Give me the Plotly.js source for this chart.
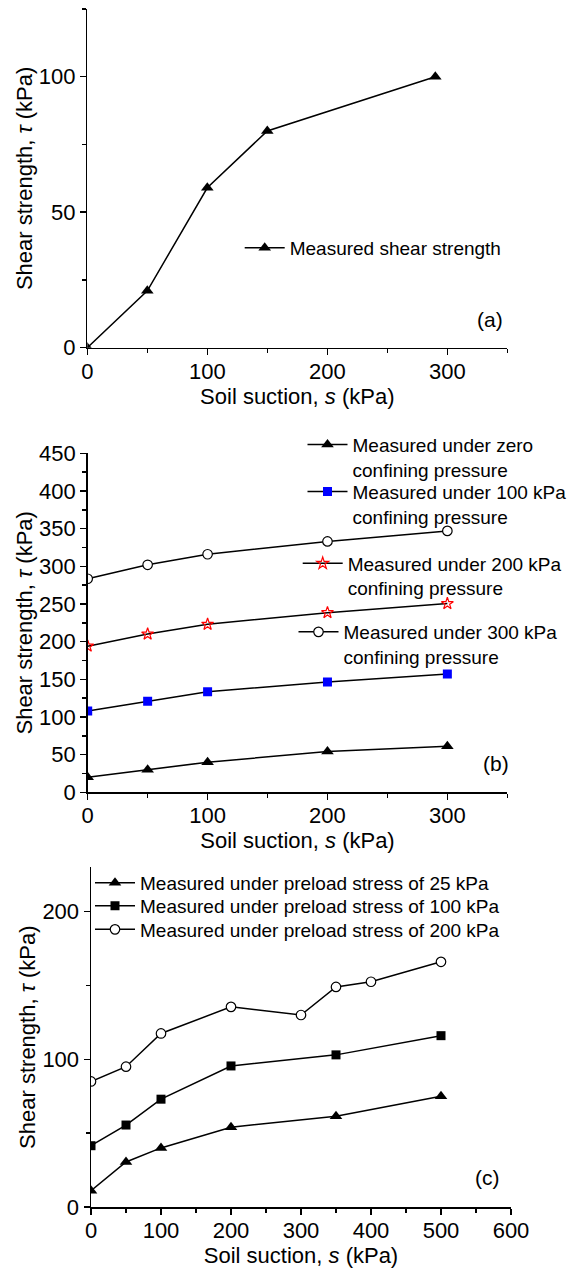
<!DOCTYPE html>
<html>
<head>
<meta charset="utf-8">
<script src="https://cdn.plot.ly/plotly-3.0.1.min.js"></script>
<style>html,body{margin:0;padding:0;background:#fff;}#chart{width:574px;height:1268px;}</style>
</head>
<body>
<div id="chart"></div>
<script>
// ---- Panel (a) ----
const aSuction = [0, 50, 100, 150, 290];
const aStrength = [0, 21, 59, 80, 100];
const aName = 'Measured shear strength';

// ---- Panel (b) ----
const bSuction = [0, 50, 100, 200, 300];
const bZero = [20, 30, 40, 54, 61];
const b100 = [108, 121, 133.5, 146.5, 157];
const b200 = [194, 210, 223, 238.5, 250.5];
const b300 = [283.5, 302, 316, 333, 347];
const bNames = [
  'Measured under zero<br>confining pressure',
  'Measured under 100 kPa<br>confining pressure',
  'Measured under 200 kPa<br>confining pressure',
  'Measured under 300 kPa<br>confining pressure'
];

// ---- Panel (c) ----
const cSuction = [0, 50, 100, 200, 350, 500];
const c25 = [11, 30.5, 40, 54, 61.5, 75];
const c100 = [41.5, 55.5, 73, 95.5, 103, 116];
const cSuction200 = [0, 50, 100, 200, 300, 350, 400, 500];
const c200 = [85, 95, 117.5, 135.5, 130, 149, 152.5, 166];
const cNames = [
  'Measured under preload stress of 25 kPa',
  'Measured under preload stress of 100 kPa',
  'Measured under preload stress of 200 kPa'
];

const xTitle = 'Soil suction, <i>s</i> (kPa)';
const yTitle = 'Shear strength, <i>τ</i> (kPa)';
const panelLabels = ['(a)', '(b)', '(c)'];

const FONT = 'Liberation Sans, Arial, sans-serif';
const W = 574, H = 1268;
const px = v => v / W;
const py = v => 1 - v / H;

const lineStyle = {color: '#000', width: 1.5};
function tr(x, y, name, xa, ya, leg, marker) {
  return {x: x, y: y, name: name, type: 'scatter', mode: 'lines+markers',
    xaxis: xa, yaxis: ya, legend: leg, line: lineStyle, marker: marker, cliponaxis: true};
}
const tri = {symbol: 'triangle-up', size: 11, color: '#000'};
const sqBlack = {symbol: 'square', size: 9, color: '#000'};
const sqBlue = {symbol: 'square', size: 9, color: '#0000ff'};
const starRed = {symbol: 'star-open', size: 9, color: '#ff0000', line: {color: '#ff0000', width: 1.2}};
const circOpen = {symbol: 'circle', size: 9.5, color: '#fff', line: {color: '#000', width: 1.2}};

const data = [
  tr(aSuction, aStrength, aName, 'x', 'y', 'legend', tri),
  tr(bSuction, bZero, bNames[0], 'x2', 'y2', 'legend2', tri),
  tr(bSuction, b100, bNames[1], 'x2', 'y2', 'legend3', sqBlue),
  tr(bSuction, b200, bNames[2], 'x2', 'y2', 'legend4', starRed),
  tr(bSuction, b300, bNames[3], 'x2', 'y2', 'legend5', circOpen),
  tr(cSuction, c25, cNames[0], 'x3', 'y3', 'legend6', tri),
  tr(cSuction, c100, cNames[1], 'x3', 'y3', 'legend7', sqBlack),
  tr(cSuction200, c200, cNames[2], 'x3', 'y3', 'legend8', circOpen)
];

function xax(domain, range, dtick, mdtick, anchor) {
  return {domain: domain, range: range, dtick: dtick, tick0: 0, anchor: anchor,
    showline: true, linecolor: '#000', linewidth: 1.5, mirror: false,
    ticks: 'outside', ticklen: 6, tickwidth: 1.5, tickcolor: '#000',
    ticklabelstandoff: -3,
    minor: {dtick: mdtick, tick0: 0, ticks: 'outside', ticklen: 4, tickwidth: 1.5, tickcolor: '#000', showgrid: false},
    showgrid: false, zeroline: false, fixedrange: true,
    tickfont: {family: FONT, size: 22, color: '#000'},
    title: {text: xTitle, font: {family: FONT, size: 22, color: '#000'}, standoff: 0}};
}
function yax(domain, range, dtick, mdtick, anchor) {
  const a = xax(domain, range, dtick, mdtick, anchor);
  a.ticklabelstandoff = 0;
  a.title = {text: yTitle, font: {family: FONT, size: 22, color: '#000'}, standoff: 0};
  return a;
}
function leg(xs, ys) {
  return {x: px(xs - 5), y: py(ys - 18.8), xanchor: 'left', yanchor: 'top',
    bgcolor: 'rgba(0,0,0,0)', borderwidth: 0, valign: 'top', itemwidth: 40,
    font: {family: FONT, size: 19, color: '#000'}};
}

const layout = {
  width: W, height: H,
  margin: {l: 0, r: 0, t: 0, b: 0},
  paper_bgcolor: '#fff', plot_bgcolor: '#fff',
  font: {family: FONT, color: '#000'},
  showlegend: true,
  xaxis: xax([px(87.3), px(507.3)], [0, 350], 100, 50, 'y'),
  yaxis: yax([py(347.7), py(9)], [0, 125], 50, 25, 'x'),
  xaxis2: xax([px(87.7), px(507.3)], [0, 350], 100, 50, 'y2'),
  yaxis2: yax([py(792.3), py(453.3)], [0, 450], 50, 25, 'x2'),
  xaxis3: xax([px(91), px(511)], [0, 600], 100, 50, 'y3'),
  yaxis3: yax([py(1207), py(867.3)], [0, 230], 100, 50, 'x3'),
  legend: leg(244.7, 247.7),
  legend2: leg(307.5, 444.5),
  legend3: leg(307.5, 491.5),
  legend4: leg(302.7, 563.3),
  legend5: leg(298.5, 631.8),
  legend6: leg(95, 882.7),
  legend7: leg(95, 905.7),
  legend8: leg(95, 929.3),
  annotations: [
    {text: panelLabels[0], x: px(489.7), y: py(319.3)},
    {text: panelLabels[1], x: px(495.7), y: py(763.3)},
    {text: panelLabels[2], x: px(487.3), y: py(1177.7)}
  ].map(a => Object.assign(a, {xref: 'paper', yref: 'paper', xanchor: 'center', yanchor: 'middle',
    showarrow: false, font: {family: FONT, size: 21, color: '#000'}}))
};

Plotly.newPlot('chart', data, layout, {staticPlot: true, displayModeBar: false});
</script>
</body>
</html>
